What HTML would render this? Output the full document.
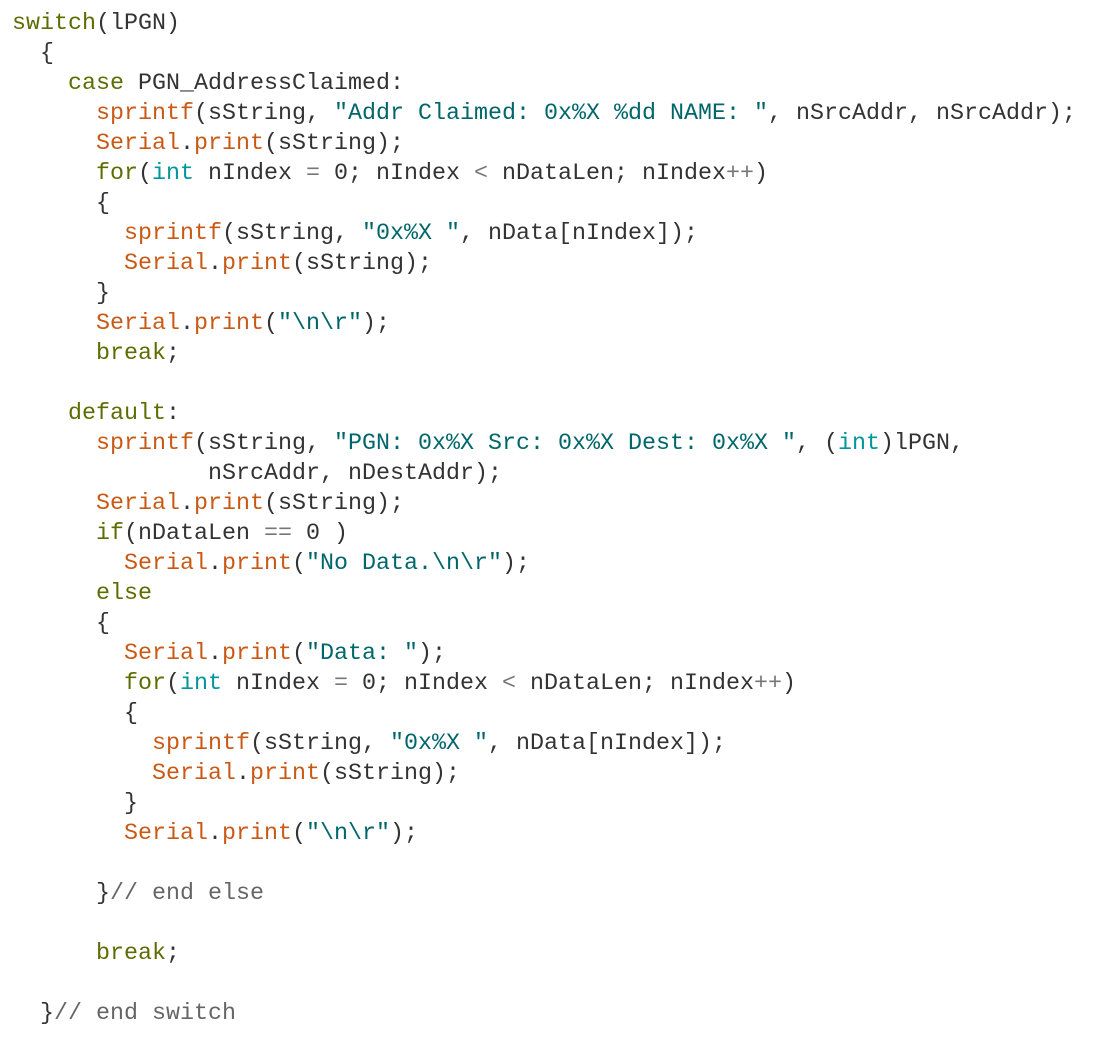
<!DOCTYPE html>
<html><head><meta charset="utf-8"><style>
html,body{margin:0;padding:0;background:#fff;width:1100px;height:1046px;overflow:hidden}
pre{margin:0;padding:9px 0 0 12px;font-family:"Liberation Mono","DejaVu Sans Mono",monospace;font-size:23.33px;line-height:30px;color:#333}
.k{color:#5e6d03}.f{color:#c95a16}.s{color:#00666b}.t{color:#00979c}.c{color:#666}.o{color:#777}
</style></head><body><pre><span class="k">switch</span>(lPGN)
  {
    <span class="k">case</span> PGN_AddressClaimed:
      <span class="f">sprintf</span>(sString, <span class="s">"Addr Claimed: 0x%X %dd NAME: "</span>, nSrcAddr, nSrcAddr);
      <span class="f">Serial</span>.<span class="f">print</span>(sString);
      <span class="k">for</span>(<span class="t">int</span> nIndex <span class="o">=</span> 0; nIndex <span class="o">&lt;</span> nDataLen; nIndex<span class="o">++</span>)
      {
        <span class="f">sprintf</span>(sString, <span class="s">"0x%X "</span>, nData[nIndex]);
        <span class="f">Serial</span>.<span class="f">print</span>(sString);
      }
      <span class="f">Serial</span>.<span class="f">print</span>(<span class="s">"\n\r"</span>);
      <span class="k">break</span>;

    <span class="k">default</span>:
      <span class="f">sprintf</span>(sString, <span class="s">"PGN: 0x%X Src: 0x%X Dest: 0x%X "</span>, (<span class="t">int</span>)lPGN,
              nSrcAddr, nDestAddr);
      <span class="f">Serial</span>.<span class="f">print</span>(sString);
      <span class="k">if</span>(nDataLen <span class="o">==</span> 0 )
        <span class="f">Serial</span>.<span class="f">print</span>(<span class="s">"No Data.\n\r"</span>);
      <span class="k">else</span>
      {
        <span class="f">Serial</span>.<span class="f">print</span>(<span class="s">"Data: "</span>);
        <span class="k">for</span>(<span class="t">int</span> nIndex <span class="o">=</span> 0; nIndex <span class="o">&lt;</span> nDataLen; nIndex<span class="o">++</span>)
        {
          <span class="f">sprintf</span>(sString, <span class="s">"0x%X "</span>, nData[nIndex]);
          <span class="f">Serial</span>.<span class="f">print</span>(sString);
        }
        <span class="f">Serial</span>.<span class="f">print</span>(<span class="s">"\n\r"</span>);

      }<span class="c">// end else</span>

      <span class="k">break</span>;

  }<span class="c">// end switch</span>
</pre></body></html>
